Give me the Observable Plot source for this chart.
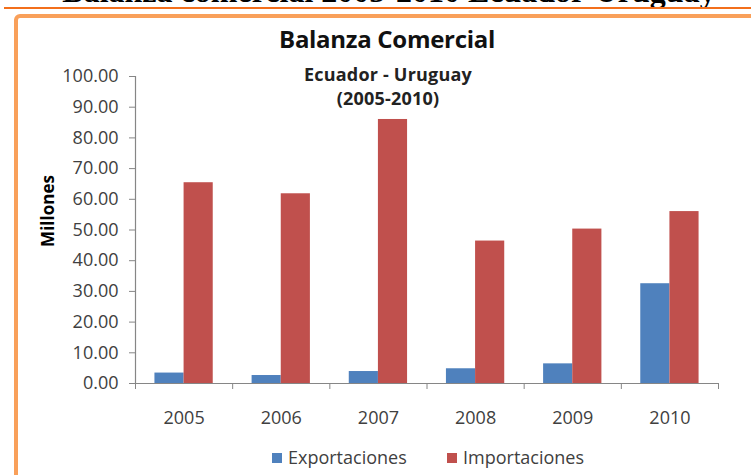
<!DOCTYPE html>
<html>
<head>
<meta charset="utf-8">
<script src="https://cdn.jsdelivr.net/npm/d3@7"></script>
<script src="https://cdn.jsdelivr.net/npm/@observablehq/plot@0.6"></script>
<style>
  html, body { margin: 0; padding: 0; background: #fff; }
  #wrap { position: relative; width: 751px; height: 475px; overflow: hidden; background: #fff; font-family: "Open Sans", sans-serif; }
  .abs { position: absolute; white-space: nowrap; }
  #heading { left: 0; width: 778px; text-align: center; top: -25px; font-family: "Liberation Serif", serif; font-weight: bold; font-size: 32px; line-height: 32px; color: #000; }
  #hrule { left: 4px; right: 0; top: 7px; height: 2px; background: #F36F1B; }
  #frame { left: 14px; top: 14px; width: 800px; height: 600px; border: 4px solid #F9A05A; border-radius: 6px; box-sizing: border-box; }
  #title { left: 0; width: 774px; text-align: center; top: 27px; font-weight: bold; font-size: 24px; line-height: 24px; color: #111; letter-spacing: -0.3px; }
  .sub { left: 0; width: 776px; text-align: center; font-weight: bold; font-size: 18px; line-height: 18px; color: #222; letter-spacing: 0.2px; }
  #ylabel { left: 47px; top: 211px; transform: translate(-50%, -50%) rotate(-90deg); font-weight: bold; font-size: 17px; line-height: 17px; color: #000; }
  .sw { width: 10px; height: 10px; top: 453px; }
  .lt { top: 448px; font-size: 18px; line-height: 18px; color: #404040; }
  #chart { left: 0; top: 0; }
</style>
</head>
<body>
<div id="wrap">
  <div id="heading" class="abs">Balanza comercial 2005-2010 Ecuador-Uruguay</div>
  <div id="hrule" class="abs"></div>
  <div id="frame" class="abs"></div>
  <div id="chart" class="abs"></div>
  <div id="title" class="abs">Balanza Comercial</div>
  <div class="abs sub" style="top:65px">Ecuador - Uruguay</div>
  <div class="abs sub" style="top:89px">(2005-2010)</div>
  <div id="ylabel" class="abs">Millones</div>
  <div class="abs sw" style="left:272px;background:#4F81BD"></div>
  <div class="abs lt" style="left:288px">Exportaciones</div>
  <div class="abs sw" style="left:447px;background:#C0504D"></div>
  <div class="abs lt" style="left:463px">Importaciones</div>
</div>
<script>
const years = [2005, 2006, 2007, 2008, 2009, 2010];
const exportaciones = [3.4, 2.6, 3.9, 4.8, 6.4, 32.5];
const importaciones = [65.4, 61.8, 86.0, 46.4, 50.3, 56.0];
const seriesNames = ["Exportaciones", "Importaciones"];
const seriesColors = ["#4F81BD", "#C0504D"];
const yTicks = [0, 10, 20, 30, 40, 50, 60, 70, 80, 90, 100];

const data = years.flatMap((year, i) => [
  {year, series: seriesNames[0], value: exportaciones[i]},
  {year, series: seriesNames[1], value: importaciones[i]}
]);

const barWidth = 0.3; // fraction of a category
const boundaries = years.map(y => y - 0.5).concat([years[years.length - 1] + 0.5]);
const xDomain = [boundaries[0], boundaries[boundaries.length - 1]];

const H = 440;
const chart = Plot.plot({
  width: 751,
  height: H,
  marginLeft: 135,
  marginRight: 33,
  marginTop: 76,
  marginBottom: H - 383,
  style: {fontFamily: "Open Sans, sans-serif", fontSize: "18px", color: "#404040", background: "transparent"},
  x: {domain: xDomain, axis: null},
  y: {domain: [0, 100], axis: null},
  color: {domain: seriesNames, range: seriesColors},
  marks: [
    Plot.rectY(data, {
      x1: d => d.series === seriesNames[0] ? d.year - barWidth : d.year,
      x2: d => d.series === seriesNames[0] ? d.year : d.year + barWidth,
      y: "value",
      fill: "series"
    }),
    Plot.ruleY([0], {stroke: "#868686", strokeWidth: 1.2}),
    Plot.ruleX([xDomain[0]], {stroke: "#868686", strokeWidth: 1.2}),
    Plot.axisY({ticks: yTicks, tickFormat: d3.format(".2f"), tickSize: 6, tickPadding: 11, stroke: "#868686", fill: "#404040", fontSize: 18, label: null}),
    Plot.axisX({ticks: boundaries, tickFormat: () => "", tickSize: 6, stroke: "#868686", label: null}),
    Plot.axisX({ticks: years, tickFormat: d => String(d), tickSize: 0, tickPadding: 28, fill: "#404040", fontSize: 18, label: null})
  ]
});
document.getElementById("chart").appendChild(chart);
</script>
</body>
</html>
